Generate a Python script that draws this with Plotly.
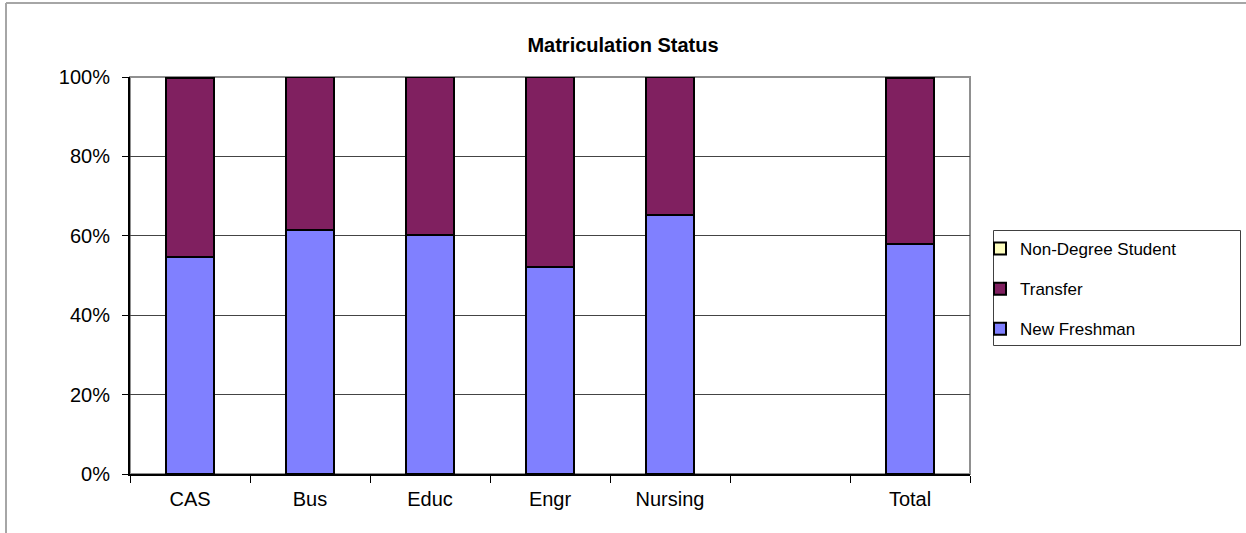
import plotly.graph_objects as go

# Matriculation status by college (percent of students)
categories = ["CAS", "Bus", "Educ", "Engr", "Nursing", " ", "Total"]
new_freshman = [54.6, 61.5, 60.3, 52.2, 65.2, None, 57.9]
transfer = [45.1, 38.5, 39.7, 47.8, 34.8, None, 41.8]
non_degree = [0.3, 0.0, 0.0, 0.0, 0.0, None, 0.3]
y_ticks = [0, 20, 40, 60, 80, 100]
y_labels = ["0%", "20%", "40%", "60%", "80%", "100%"]

W, H = 1246, 533
L, R, T, B = 130, 276, 77, 59

def px_x(x):
    return (x - L) / (W - L - R)

def px_y(y):
    return (H - B - y) / (H - T - B)

fig = go.Figure()

series = [
    ("New Freshman", new_freshman, "#8080FF", 3),
    ("Transfer", transfer, "#802060", 2),
    ("Non-Degree Student", non_degree, "#FFFFC0", 1),
]
for name, vals, color, rank in series:
    fig.add_trace(go.Bar(
        x=categories, y=vals, name=name, legendgroup=name, legendrank=rank,
        marker=dict(color=color, line=dict(color="black", width=2)),
        width=0.4,
    ))

# plot-area frame (gray), outer chart border and legend box
fig.add_shape(type="rect", xref="paper", yref="paper", x0=0, x1=1, y0=0, y1=1,
              line=dict(color="#909090", width=2), layer="below")
fig.add_shape(type="line", xref="paper", yref="paper",
              x0=px_x(6), x1=px_x(1260), y0=px_y(3), y1=px_y(3),
              line=dict(color="#a6a6a6", width=2))
fig.add_shape(type="line", xref="paper", yref="paper",
              x0=px_x(6), x1=px_x(6), y0=px_y(3), y1=px_y(545),
              line=dict(color="#a6a6a6", width=2))
fig.add_shape(type="rect", xref="paper", yref="paper",
              x0=px_x(993.5), x1=px_x(1240.5), y0=px_y(230.5), y1=px_y(345.5),
              line=dict(color="#404040", width=1))

fig.update_layout(
    width=W, height=H,
    margin=dict(l=L, r=R, t=T, b=B),
    barmode="stack",
    paper_bgcolor="white", plot_bgcolor="white",
    font=dict(family="Arial, Liberation Sans, sans-serif", color="black"),
    title=dict(text="<b>Matriculation Status</b>", x=0.5, xref="container",
               y=1 - 45 / H, yanchor="middle", font=dict(size=20)),
    showlegend=True,
    legend=dict(
        x=px_x(980), y=px_y(231), xanchor="left", yanchor="top",
        traceorder="grouped", tracegroupgap=15,
        borderwidth=0, bgcolor="rgba(0,0,0,0)",
        font=dict(size=17), itemwidth=30,
    ),
    xaxis=dict(
        type="category", categoryorder="array", categoryarray=categories,
        showline=True, linecolor="black", linewidth=2,
        ticks="outside", tickson="boundaries", ticklen=7, tickcolor="black",
        tickfont=dict(size=20), ticklabelstandoff=6, showgrid=False,
    ),
    yaxis=dict(
        range=[0, 100], tickvals=y_ticks, ticktext=y_labels,
        showline=True, linecolor="black", linewidth=2,
        ticks="outside", ticklen=6, tickcolor="black",
        tickfont=dict(size=20), ticklabelstandoff=8,
        showgrid=True, gridcolor="#444444", gridwidth=1,
        zeroline=False,
    ),
)

fig.write_html("out.html", config={"displayModeBar": False},
               post_script="document.body.style.margin='0';")
